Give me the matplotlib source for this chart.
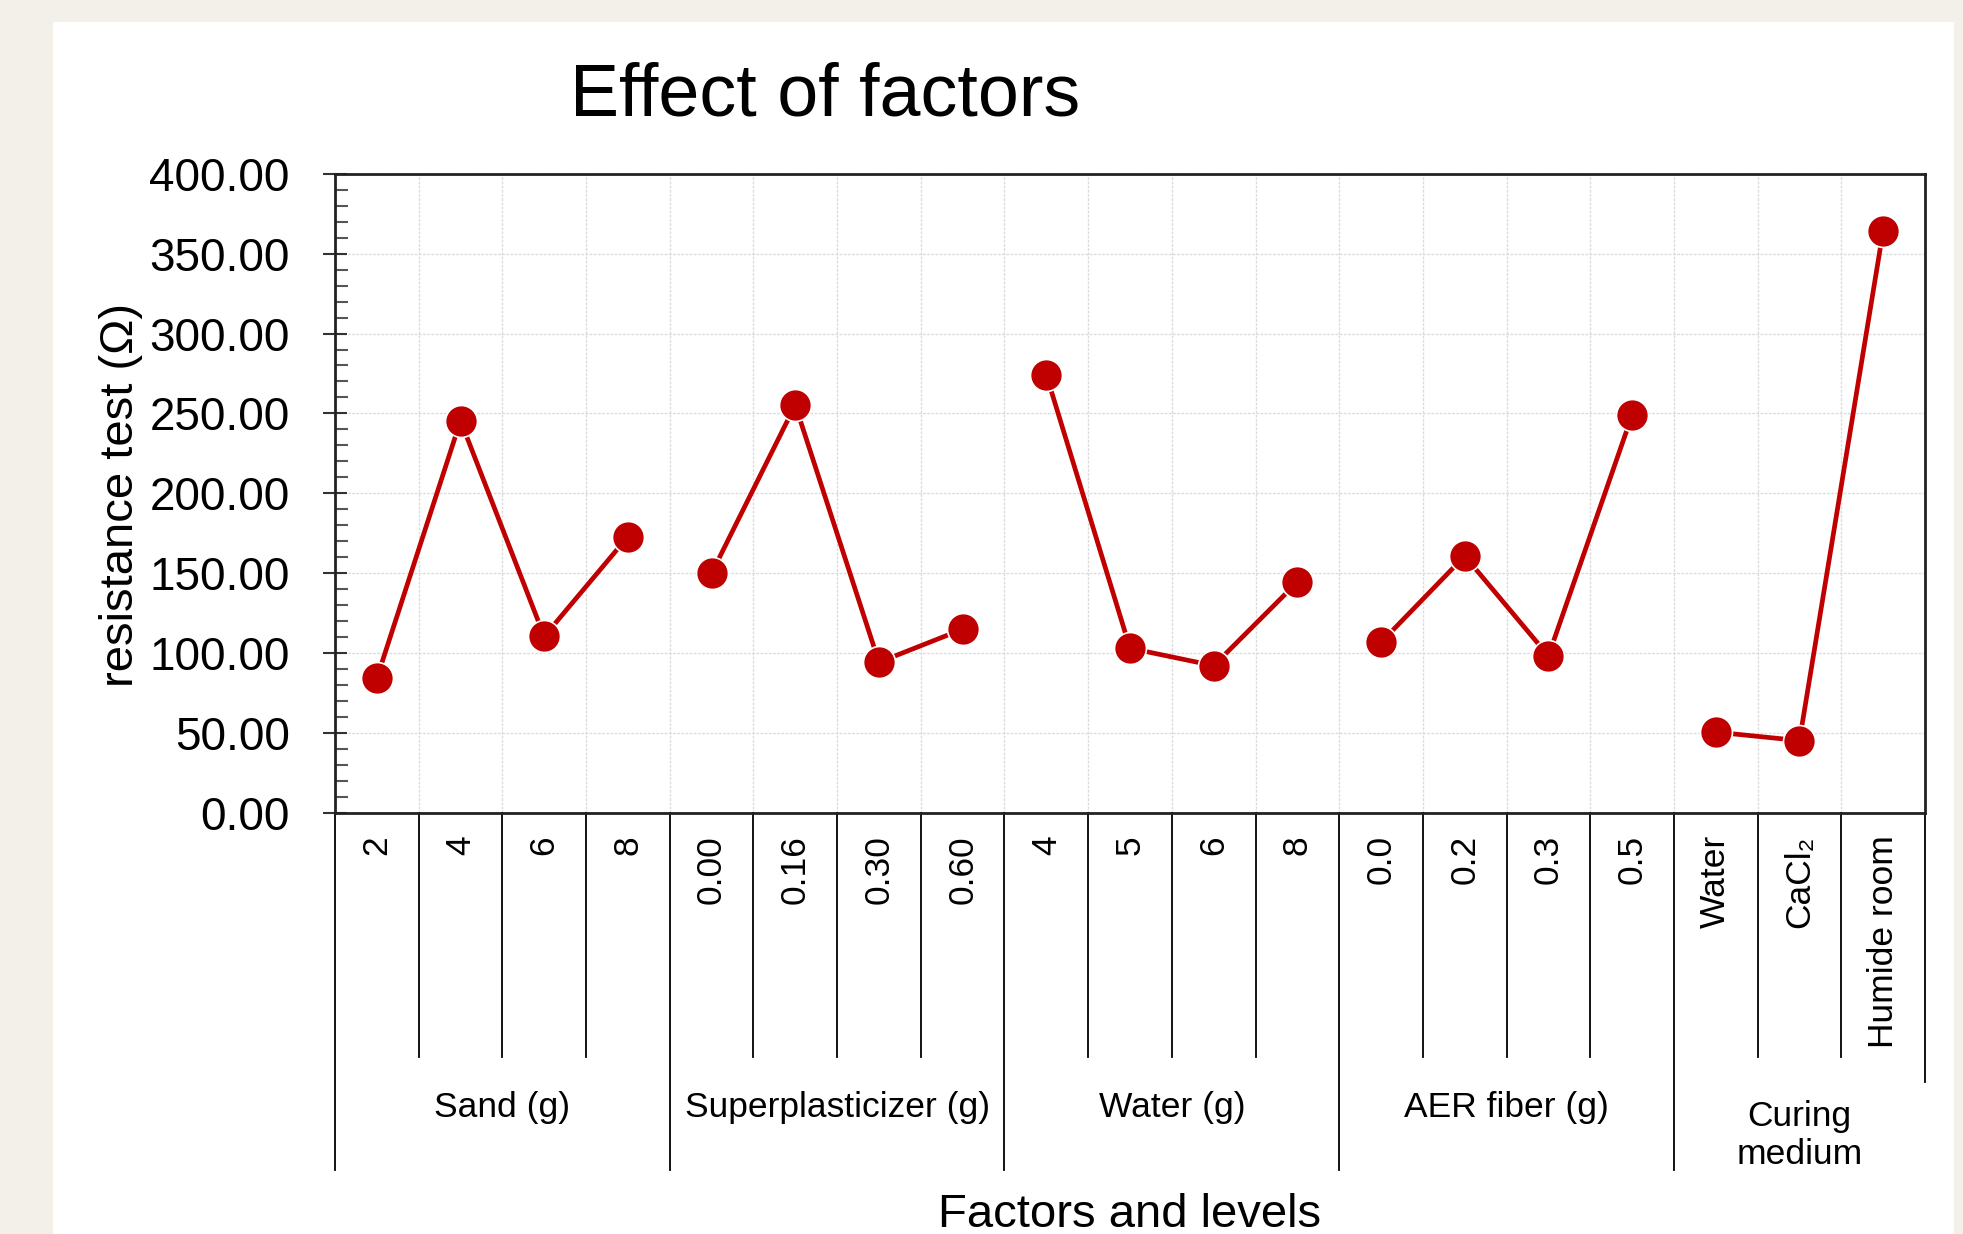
import matplotlib.pyplot as plt
from matplotlib.patches import Rectangle
from matplotlib.ticker import MultipleLocator, FormatStrFormatter
import numpy as np

BG = "#f3f0e9"
RED = "#c00000"
GRID = "#dcdcdc"

plt.rcParams["font.family"] = ["Liberation Sans", "DejaVu Sans"]

# factor groups and their levels
groups = ["Sand (g)", "Superplasticizer (g)", "Water (g)", "AER fiber (g)", "Curing\nmedium"]
sand_levels = ["2", "4", "6", "8"]
sand_vals = [84.3, 245.5, 110.5, 172.9]
sp_levels = ["0.00", "0.16", "0.30", "0.60"]
sp_vals = [150.0, 255.3, 94.3, 115.0]
water_levels = ["4", "5", "6", "8"]
water_vals = [274.2, 103.1, 92.2, 144.5]
aer_levels = ["0.0", "0.2", "0.3", "0.5"]
aer_vals = [106.8, 160.8, 98.3, 249.0]
curing_levels = ["Water", "CaCl₂", "Humide room"]
curing_vals = [50.6, 45.3, 364.4]

all_levels = [sand_levels, sp_levels, water_levels, aer_levels, curing_levels]
all_vals = [sand_vals, sp_vals, water_vals, aer_vals, curing_vals]

W, H = 1963, 1234
fig = plt.figure(figsize=(W / 100, H / 100), dpi=100, facecolor=BG)
fig.add_artist(Rectangle((53 / W, 0), (1954 - 53) / W, 1 - 22 / H,
                         transform=fig.transFigure, facecolor="white", edgecolor="none", zorder=0))

ax = fig.add_axes([335 / W, 1 - 813 / H, 1590 / W, 639.3 / H])
ax.set_facecolor("white")

# one line per factor, positions run on across groups
xs_all, labels_all, starts = [], [], []
start = 0
for levels, vals in zip(all_levels, all_vals):
    x = np.arange(start, start + len(levels))
    ax.plot(x, vals, color=RED, lw=3.4, marker="o", ms=23, mfc=RED, mec="white", mew=1.2, zorder=3)
    xs_all.extend(x)
    labels_all.extend(levels)
    starts.append(start)
    start += len(levels)
n = start

ax.set_xlim(-0.5, n - 0.5)
ax.set_ylim(0, 400)

ax.yaxis.set_major_locator(MultipleLocator(50))
ax.yaxis.set_minor_locator(MultipleLocator(10))
ax.yaxis.set_major_formatter(FormatStrFormatter("%.2f"))
ax.tick_params(axis="y", which="major", direction="inout", length=17, width=1.5, pad=24,
               labelsize=33, color="#333333")
ax.tick_params(axis="y", which="minor", direction="in", length=9, width=1.5, color="#555555")

ax.set_xticks(xs_all)
ax.set_xticklabels(labels_all, rotation=90, va="top", ha="center")
ax.set_xticks(np.arange(-0.5, n), minor=True)
ax.tick_params(axis="x", which="both", length=0, pad=16, labelsize=25.5)

ax.set_axisbelow(True)
ax.grid(axis="y", which="major", color=GRID, lw=1.0, ls=(0, (2, 1)))
ax.grid(axis="x", which="minor", color=GRID, lw=1.0, ls=(0, (2, 1)))

for side in ["left", "right", "top", "bottom"]:
    ax.spines[side].set_linewidth(2)
    ax.spines[side].set_color("#222222")

# level / factor dividers under the axis
trans = ax.get_xaxis_transform()
group_edges = [s - 0.5 for s in starts]
for b in np.arange(-0.5, n):
    if b in group_edges:
        yend = -0.558
    elif b == n - 0.5:
        yend = -0.421
    else:
        yend = -0.382
    ax.plot([b, b], [0, yend], transform=trans, clip_on=False, color="black", lw=1.3)

for name, s, levels in zip(groups, starts, all_levels):
    cx = s + (len(levels) - 1) / 2
    cy = -0.505 if "\n" in name else -0.46
    ax.text(cx, cy, name, transform=trans, ha="center", va="center", fontsize=25.5, linespacing=1.2)

fig.text(825 / W, 1 - 115 / H, "Effect of factors", ha="center", va="baseline", fontsize=53)
fig.text(121 / W, 1 - 495 / H, "resistance test (Ω)", rotation=90, ha="center", va="center", fontsize=34)
fig.text(1130 / W, 1 - 1227 / H, "Factors and levels", ha="center", va="baseline", fontsize=34)

fig.savefig("out.png", dpi=100, facecolor=BG)
plt.close(fig)
